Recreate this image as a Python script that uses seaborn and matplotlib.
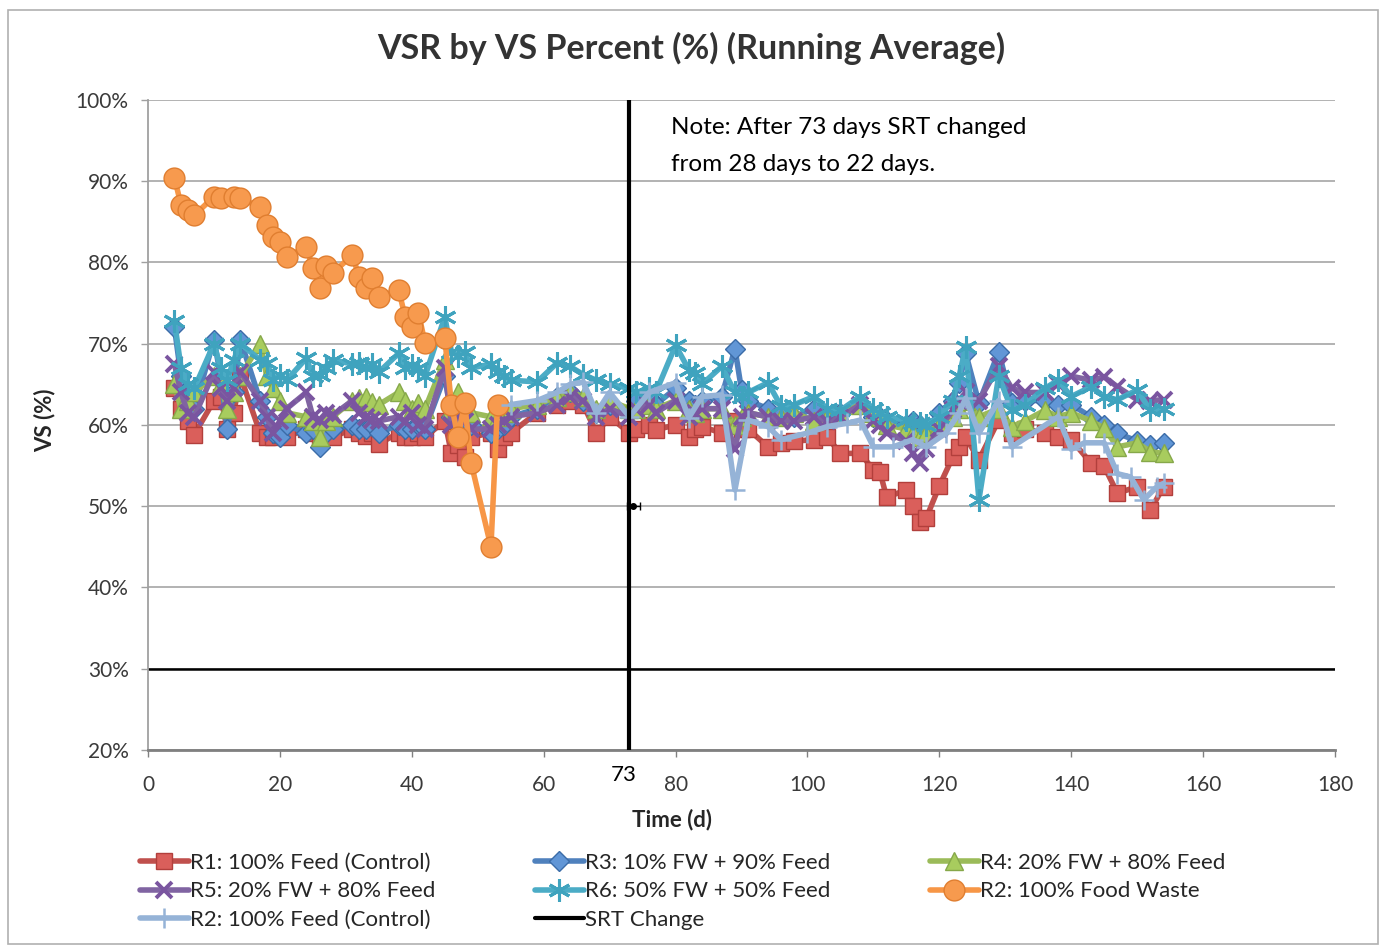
import matplotlib
matplotlib.use("Agg")
import matplotlib.pyplot as plt
import seaborn as sns
from matplotlib.patches import Rectangle
from matplotlib.ticker import FuncFormatter

# sampling days shared by R1, R3, R4, R5, R6
days = [4, 5, 6, 7, 10, 11, 12, 13, 14, 17, 18, 19, 20, 21, 24, 25, 26, 27, 28,
        31, 32, 33, 34, 35, 38, 39, 40, 41, 42, 45, 46, 47, 48, 49, 52, 53, 54, 55,
        59, 62, 64, 66, 68, 70, 73,
        74, 76, 77, 80, 82, 83, 84, 87, 89, 90, 91, 94, 96, 98, 101, 103, 105, 108,
        110, 111, 112, 115, 116, 117, 118, 120, 122, 123, 124, 126, 129, 131, 133,
        136, 138, 140, 143, 145, 147, 150, 152, 154]

r1 = [64.5, 62, 60.5, 58.8, 63, 63.5, 59.5, 61.5, 66, 59, 58.5, 58.5, 58.8, 58.5, 59.5, 59, 58.5, 59.5, 58.5,
      59.5, 59, 58.7, 59, 57.7, 59, 58.5, 58.5, 59, 58.5, 60.5, 56.5, 57.5, 56, 58.5, 59, 57, 58.5, 59,
      61.5, 62.5, 63, 62.5, 59, 61, 59,
      59.5, 60, 59.4, 60, 58.5, 59.5, 59.8, 59, 60.5, 59.5, 59.5, 57.3, 57.8, 58, 58.2, 58.5, 56.5, 56.5,
      54.5, 54.2, 51.1, 52, 50, 48, 48.5, 52.5, 56, 57.3, 58.5, 55.7, 60.6, 59, 59.5,
      59, 58.5, 58.2, 55.3, 54.9, 51.6, 52.4, 49.5, 52.4]

r3 = [72, 66, 63, 62, 70.5, 66, 59.5, 64, 70.5, 63, 61, 59, 58.5, 60, 59, 59.5, 57.3, 59, 59.5,
      60, 59.5, 59.5, 60, 59, 60, 59.5, 59.5, 60, 59.5, 66, 61, 60, 60.5, 60, 59, 59.5, 60, 61,
      62, 63.5, 64, 63, 61.5, 62.5, 61.5,
      63, 63.5, 62.5, 64.5, 63, 62.5, 63, 63.5, 69.4, 64.3, 63, 62, 61.5, 61, 62, 61, 61.5, 62.5,
      61, 61, 60.5, 60, 60.5, 60, 59.5, 61.5, 63, 65.2, 68.8, 62.7, 69, 62.7, 63,
      63, 62.5, 62.5, 61, 60, 59, 58, 57.5, 57.8]

r4 = [65, 62, 63, 64, 66, 65, 62, 64, 66, 70, 66, 64.5, 63, 61.5, 61, 60.5, 58.5, 60.5, 61,
      63, 63.3, 63.4, 62.8, 62.5, 64, 63, 62, 62.7, 62, 68, 62, 64, 62, 61.5, 61, 61, 61.5, 62,
      62.5, 63.5, 64, 63.5, 62, 63, 62,
      62, 62.5, 62, 63, 62, 61.5, 62, 62, 60, 61, 61.5, 61, 61, 61.5, 60.5, 61, 61.5, 62.5,
      61.5, 61, 60, 59.5, 59, 58.5, 59, 60, 61, 62, 63, 61, 62, 59.8, 60.5,
      61.8, 61, 61.5, 60.5, 59.6, 57.3, 57.8, 56.7, 56.5]

r5 = [67.5, 64, 61.5, 61, 66.5, 64.5, 63, 64.5, 66.5, 63, 61, 59, 60.5, 62, 64, 61, 60.6, 61.5, 61.2,
      63, 61.5, 61, 60.6, 60.5, 61, 60.4, 61.5, 60, 59.5, 67, 60, 61, 60.5, 59.5, 59.5, 60, 60.5, 61,
      61.5, 62.5, 63.5, 63, 61, 62, 61,
      62, 62.5, 61.5, 63, 61, 61.5, 62, 62, 57, 61, 61.5, 61, 60.5, 60.5, 61, 60.5, 61, 62.5,
      60.5, 60, 59, 58, 56.5, 55.3, 57, 59.5, 61.8, 63, 64, 63, 67.2, 64.5, 64,
      64, 65, 66, 65.5, 65.9, 64.7, 63.1, 63, 63.1]

r6 = [72.8, 67, 65, 64.5, 70, 67, 65.5, 68, 70, 68, 67.6, 65.5, 66.2, 65.5, 68.2, 66, 66.2, 67, 68,
      67.5, 67.6, 67, 67.5, 66.5, 68.8, 67, 67.4, 67, 66, 73.3, 69, 68.5, 69, 67, 67.5, 66.5, 66, 65.5,
      65.3, 67.6, 67.2, 66.2, 65.5, 65, 64.5,
      64, 64.5, 64, 69.8, 66.8, 66.4, 65, 67.2, 64, 63.5, 64, 65.2, 62.3, 62.5, 63.5, 62, 61.8, 63.5,
      62, 61.5, 61, 60.6, 60.3, 60.3, 60, 61, 63, 66, 69.6, 50.8, 66, 61.8, 62.5,
      64.5, 65.5, 63.5, 64.7, 63.5, 63.1, 64.3, 61.8, 62]

fw_days = [4, 5, 6, 7, 10, 11, 13, 14, 17, 18, 19, 20, 21, 24, 25, 26, 27, 28,
           31, 32, 33, 34, 35, 38, 39, 40, 41, 42, 45, 46, 47, 48, 49, 52, 53]
r2_fw = [90.4, 87.1, 86.5, 85.8, 88.1, 87.9, 88.1, 87.9, 86.8, 84.6, 83.1, 82.5, 80.7, 81.9, 79.3, 76.9,
         79.5, 78.7, 80.9, 78.2, 76.9, 78.1, 75.8, 76.6, 73.3, 72, 73.8, 70.1, 70.7, 62.5, 58.5, 62.7,
         55.3, 45, 62.5]

ctl_days = [55, 59, 62, 64, 66, 68, 70, 73, 76, 80, 82, 84, 87, 89, 91, 94, 96, 100, 103, 106,
            108, 110, 113, 116, 118, 121, 123, 124, 126, 129, 131, 138, 140, 142, 145, 147, 149,
            151, 153, 154]
r2_ctl = [62.5, 63, 64, 65, 65.3, 61.5, 64, 61, 64, 65.2, 60.9, 63.5, 63.7, 52, 60.6, 59.8, 58.2, 59,
          59.8, 60.2, 60.6, 57.3, 57.3, 58.2, 57.3, 59, 61.5, 63.3, 59, 63, 57.3, 61, 57, 57.8, 57.8,
          54, 53.6, 50.8, 52.4, 52.8]

srt_days = [73, 73]
srt_vals = [20, 100]

sns.set_style("white")
plt.rcParams["font.family"] = ["Lato", "DejaVu Sans"]

fig = plt.figure(figsize=(13.85, 9.48), dpi=100)
ax = fig.add_axes([0.1069, 0.2089, 0.857, 0.6857])

series = [
    ("R1: 100% Feed (Control)", days, r1, "#C0504D", "s", 12, "#DA5F5B", "#B23F3C", 1.0),
    ("R3: 10% FW + 90% Feed", days, r3, "#4F81BD", "D", 10, "#6196D6", "#3B6CA8", 1.0),
    ("R4: 20% FW + 80% Feed", days, r4, "#9BBB59", "^", 13, "#A8CC5E", "#86A84A", 1.0),
    ("R5: 20% FW + 80% Feed", days, r5, "#8064A2", "x", 12, "#7A55A0", "#7A55A0", 2.8),
    ("R6: 50% FW + 50% Feed", days, r6, "#4BACC6", (6, 2, 0), 16, "#3FA3BE", "#3FA3BE", 2.2),
    ("R2: 100% Food Waste", fw_days, r2_fw, "#F79646", "o", 15, "#F79A4E", "#E07E30", 1.0),
    ("R2: 100% Feed (Control)", ctl_days, r2_ctl, "#95B3D7", "+", 15, "#95B3D7", "#95B3D7", 1.8),
]

handles = {}
for i, (label, x, y, col, mk, ms, mfc, mec, mew) in enumerate(series):
    sns.lineplot(x=x, y=y, ax=ax, color=col, lw=4, marker=mk, markersize=ms,
                 markerfacecolor=mfc, markeredgecolor=mec, markeredgewidth=mew,
                 label=label, sort=False, zorder=3 + i)
    handles[label] = ax.lines[-1]

sns.lineplot(x=srt_days, y=srt_vals, ax=ax, color="black", lw=3, label="SRT Change",
             sort=False, estimator=None, zorder=12)
handles["SRT Change"] = ax.lines[-1]
ax.errorbar([73.6], [50], xerr=[1.0], fmt="o", ms=4, color="black", lw=1, capsize=3, zorder=12)

if ax.get_legend() is not None:
    ax.get_legend().remove()

ax.set_xlim(0, 180)
ax.set_ylim(20, 100)
ax.set_xticks(range(0, 181, 20))
ax.set_yticks(range(20, 101, 10))
ax.yaxis.set_major_formatter(FuncFormatter(lambda v, p: f"{v:.0f}%"))
ax.yaxis.grid(True, color="#A6A6A6", lw=1.2)
ax.xaxis.grid(False)
ax.axhline(30, color="black", lw=1.8, zorder=2)
for s in ["top", "right"]:
    ax.spines[s].set_visible(False)
ax.spines["left"].set_color("#A0A0A0")
ax.spines["left"].set_linewidth(1.3)
ax.spines["bottom"].set_color("#808080")
ax.spines["bottom"].set_linewidth(2)
ax.tick_params(axis="x", direction="out", length=5, width=1, color="#808080", pad=13,
               labelsize=15, labelcolor="#3A3A3A", bottom=True)
ax.tick_params(axis="y", direction="out", length=5, width=1, color="#A0A0A0", pad=9,
               labelsize=15, labelcolor="#3A3A3A", left=True)
ax.set_xlabel("")
ax.set_ylabel("")

ax.annotate("73", xy=(73, 20), xytext=(-4, -11), textcoords="offset points",
            ha="center", va="top", fontsize=16, color="black", annotation_clip=False)

ax.text(79.3, 97.9, "Note: After 73 days SRT changed\nfrom 28 days to 22 days.",
        fontsize=17.5, va="top", ha="left", color="black", linespacing=1.95)

fig.text(0.499, 1 - 48 / 948, "VSR by VS Percent (%) (Running Average)", ha="center",
         va="center", fontsize=24.5, fontweight="bold", color="#333333")
fig.text(672 / 1385, 1 - 820 / 948, "Time (d)", ha="center", va="center", fontsize=16,
         fontweight="bold", color="#262626")
fig.text(45 / 1385, 1 - 420 / 948, "VS (%)", ha="center", va="center", rotation=90,
         fontsize=16, fontweight="bold", color="#262626")

cols = [
    (140, ["R1: 100% Feed (Control)", "R5: 20% FW + 80% Feed", "R2: 100% Feed (Control)"]),
    (535, ["R3: 10% FW + 90% Feed", "R6: 50% FW + 50% Feed", "SRT Change"]),
    (930, ["R4: 20% FW + 80% Feed", "R2: 100% Food Waste"]),
]
for xpx, labels in cols:
    fig.legend(handles=[handles[l] for l in labels], labels=labels, loc="upper left",
               bbox_to_anchor=(xpx / 1385, 1 - 853 / 948), frameon=False, fontsize=16,
               handlelength=2.2, handletextpad=0.05, labelspacing=0.38, borderpad=0,
               borderaxespad=0, labelcolor="#262626")

fig.add_artist(Rectangle((0.006, 0.004), 0.989, 0.985, transform=fig.transFigure,
                         fill=False, edgecolor="#B0B0B0", lw=1.2))

fig.savefig("out.png", dpi=100)
